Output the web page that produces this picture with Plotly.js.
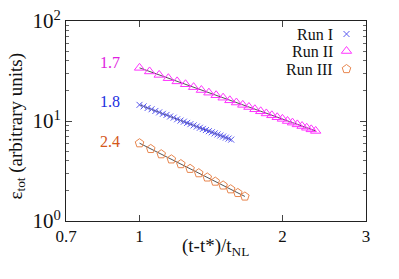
<!DOCTYPE html>
<html><head><meta charset="utf-8">
<script src="https://cdn.plot.ly/plotly-3.0.1.min.js"></script>
<style>html,body{margin:0;padding:0;background:#fff;}#chart{width:399px;height:279px;}</style>
</head><body><div id="chart"></div>
<script>
// Run I (crosses)
const run1X = [1.00,1.02,1.04,1.06,1.08,1.10,1.12,1.14,1.16,1.18,1.20,1.22,1.24,1.26,1.28,1.30,1.32,1.34,1.36,1.38,1.40,1.42,1.44,1.46,1.48,1.50,1.52,1.54,1.56];
const run1Y = [14.5,14.0,13.5,13.1,12.6,12.2,11.8,11.5,11.1,10.8,10.4,10.1,9.85,9.57,9.30,9.04,8.80,8.56,8.34,8.12,7.91,7.71,7.52,7.34,7.16,6.99,6.82,6.67,6.51];
// Run II (triangles)
const run2X = [1.00,1.05,1.10,1.15,1.20,1.25,1.30,1.35,1.40,1.45,1.50,1.55,1.60,1.65,1.70,1.75,1.80,1.85,1.90,1.95,2.00,2.05,2.10,2.15,2.20,2.25,2.30,2.35];
const run2Y = [34.0,31.3,28.9,26.8,24.9,23.3,21.8,20.4,19.2,18.1,17.1,16.1,15.3,14.5,13.8,13.1,12.5,11.9,11.4,10.9,10.5,10.0,9.63,9.25,8.90,8.56,8.25,7.96];
// Run III (pentagons)
const run3X = [1.000,1.056,1.111,1.167,1.222,1.278,1.333,1.389,1.444,1.500,1.556,1.611,1.667];
const run3Y = [6.00,5.26,4.66,4.14,3.71,3.33,3.01,2.73,2.48,2.27,2.08,1.91,1.76];
// power-law fits
const fit1X = [1.00,1.56], fit1Y = [14.5,6.51];
const fit2X = [1.00,2.35], fit2Y = [34.0,7.96];
const fit3X = [1.00,1.667], fit3Y = [6.00,1.76];
const slopeLabels = ['1.7','1.8','2.4'];
const slopeLabelX = [0.865,0.865,0.865];
const slopeLabelY = [38.5,15.7,6.2];
const seriesNames = ['Run I','Run II','Run III'];
const xTickVals = [0.7,1,2,3], xTickText = ['0.7','1','2','3'];
const yTickVals = [1,10,100], yTickText = ['10<sup>0</sup>','10<sup>1</sup>','10<sup>2</sup>'];
// legend keys on an overlay [0,1] axis
const legKeyX = [0.935,0.935,0.935];
const legKeyY = [0.935,0.85,0.76];

const c1 = '#5a5af0', c2 = '#ff33ff', c3 = '#e8864e';
const fitLine = {color:'#555555', width:1};
const font = 'Times New Roman, Liberation Serif, serif';

const traces = [
  {x:fit1X, y:fit1Y, mode:'lines', line:fitLine, showlegend:false, hoverinfo:'skip'},
  {x:fit2X, y:fit2Y, mode:'lines', line:fitLine, showlegend:false, hoverinfo:'skip'},
  {x:fit3X, y:fit3Y, mode:'lines', line:fitLine, showlegend:false, hoverinfo:'skip'},
  {x:run1X, y:run1Y, mode:'markers', name:seriesNames[0], marker:{symbol:'x-thin-open', size:6, color:c1, line:{color:c1, width:1}}},
  {x:run2X, y:run2Y, mode:'markers', name:seriesNames[1], marker:{symbol:'triangle-up-open', size:9, color:c2, line:{color:c2, width:1}}},
  {x:run3X, y:run3Y, mode:'markers', name:seriesNames[2], marker:{symbol:'pentagon-open', size:9, color:c3, line:{color:c3, width:1}}},
  {x:[legKeyX[0]], y:[legKeyY[0]], xaxis:'x2', yaxis:'y2', mode:'markers', showlegend:false, marker:{symbol:'x-thin-open', size:6, color:c1, line:{color:c1, width:1}}},
  {x:[legKeyX[1]], y:[legKeyY[1]], xaxis:'x2', yaxis:'y2', mode:'markers', showlegend:false, marker:{symbol:'triangle-up-open', size:9, color:c2, line:{color:c2, width:1}}},
  {x:[legKeyX[2]], y:[legKeyY[2]], xaxis:'x2', yaxis:'y2', mode:'markers', showlegend:false, marker:{symbol:'pentagon-open', size:9, color:c3, line:{color:c3, width:1}}}
];

const slopeColors = ['#e020e0','#1a2ee0','#d4581a'];
const annotations = [];
for (let i=0;i<3;i++){
  annotations.push({x:Math.log10(slopeLabelX[i]), y:Math.log10(slopeLabelY[i]), xref:'x', yref:'y', text:slopeLabels[i], showarrow:false,
    font:{family:font, size:16, color:slopeColors[i]}});
  annotations.push({x:legKeyX[i]-0.04, y:legKeyY[i], xref:'x2', yref:'y2', text:seriesNames[i], showarrow:false, xanchor:'right',
    font:{family:font, size:16, color:'#111'}});
}
annotations.push({x:0.497, y:-0.13, xref:'paper', yref:'paper', yanchor:'middle', showarrow:false,
  text:'(t-t*)/t<sub>NL</sub>', font:{family:font, size:19, color:'#111'}});
annotations.push({x:-0.165, y:0.475, xref:'paper', yref:'paper', xanchor:'center', yanchor:'middle', textangle:-90, showarrow:false,
  text:'ε<sub>tot</sub> (arbitrary units)', font:{family:font, size:19, color:'#111'}});

const layout = {
  width:399, height:279,
  margin:{l:66, r:33, t:21, b:58},
  paper_bgcolor:'#fff', plot_bgcolor:'#fff',
  font:{family:font, size:17, color:'#111'},
  showlegend:false,
  xaxis:{type:'log', range:[Math.log10(0.7), Math.log10(3)], tickvals:xTickVals, ticktext:xTickText,
    ticks:'inside', ticklen:6, tickcolor:'#444', showline:true, linecolor:'#222', linewidth:1, mirror:'ticks',
    showgrid:false, zeroline:false, tickfont:{family:font, size:17}},
  yaxis:{type:'log', range:[0,2], tickvals:yTickVals, ticktext:yTickText,
    ticks:'inside', ticklen:6, tickcolor:'#444', showline:true, linecolor:'#222', linewidth:1, mirror:'ticks',
    showgrid:false, zeroline:false, tickfont:{family:font, size:21},
    minor:{ticks:'inside', ticklen:3, tickcolor:'#666', showgrid:false, tickvals:[2,3,4,5,6,7,8,9,20,30,40,50,60,70,80,90]}},
  xaxis2:{overlaying:'x', range:[0,1], visible:false, fixedrange:true},
  yaxis2:{overlaying:'y', range:[0,1], visible:false, fixedrange:true},
  annotations:annotations
};
Plotly.newPlot('chart', traces, layout, {staticPlot:true, displayModeBar:false});
</script></body></html>
